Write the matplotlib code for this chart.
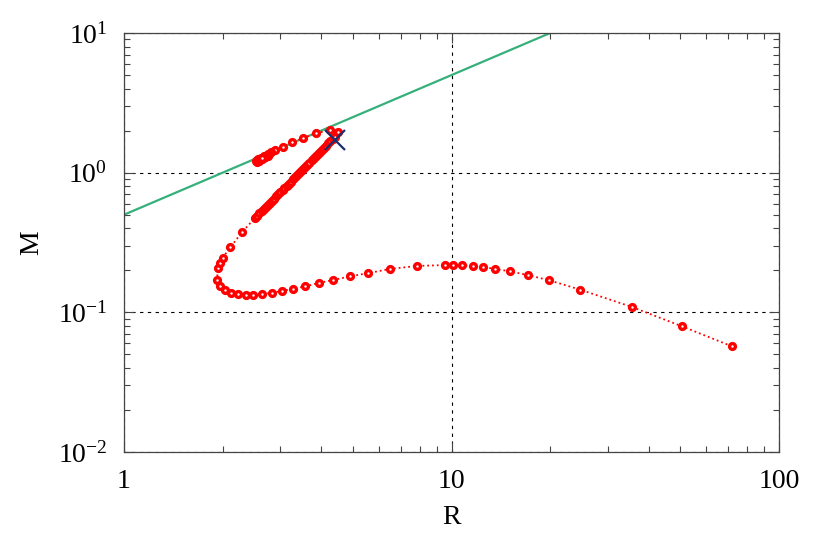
import numpy as np
import matplotlib.pyplot as plt
from matplotlib.ticker import LogLocator, FixedLocator, NullFormatter

plt.rcParams['font.family'] = ['Liberation Serif', 'DejaVu Serif']
plt.rcParams['mathtext.fontset'] = 'custom'
plt.rcParams['mathtext.rm'] = 'Liberation Serif'
plt.rcParams['mathtext.it'] = 'Liberation Serif:italic'

# -----------------------------------------------------------------------------
# Data
# -----------------------------------------------------------------------------

# tail at large R (outer part)
r_tail = [71.7, 50.5, 35.5, 24.7, 19.9, 17.1, 15.1, 13.6, 12.5, 11.6,
          10.8, 10.1, 9.55, 7.86, 6.49, 5.57, 4.90]
m_tail = [0.0572, 0.0795, 0.1094, 0.1454, 0.1695, 0.185, 0.1965, 0.2046,
          0.2114, 0.216, 0.217, 0.218, 0.218, 0.215, 0.2046, 0.191, 0.181]

# the turn at small R
r_loop = [4.36, 3.93, 3.58, 3.29, 3.04, 2.83, 2.64, 2.48, 2.35, 2.23,
          2.12, 2.03, 1.96, 1.92, 1.94, 1.96, 2.00, 2.11, 2.30]
m_loop = [0.1706, 0.1623, 0.1535, 0.1479, 0.1422, 0.1384, 0.1345, 0.1331,
          0.1331, 0.1345, 0.1384, 0.1437, 0.1535, 0.1714, 0.2065, 0.224,
          0.246, 0.292, 0.378]

# dense rising band
r_band = [2.51, 2.55, 2.59, 2.63, 2.67, 2.71, 2.75, 2.79, 2.83, 2.87,
          2.92, 2.96, 3.00, 3.05, 3.09, 3.14, 3.18, 3.23, 3.28, 3.33,
          3.38, 3.43, 3.48, 3.53, 3.58, 3.63, 3.68, 3.74, 3.79, 3.85,
          3.91, 3.96, 4.02, 4.08, 4.14, 4.21, 4.27, 4.34, 4.40]
m_band = [0.474, 0.492, 0.511, 0.530, 0.549, 0.569, 0.589, 0.610, 0.631, 0.652,
          0.680, 0.702, 0.725, 0.754, 0.778, 0.808, 0.833, 0.864, 0.897, 0.929,
          0.963, 0.997, 1.032, 1.068, 1.104, 1.141, 1.178, 1.225, 1.264, 1.313,
          1.362, 1.404, 1.455, 1.507, 1.561, 1.624, 1.680, 1.746, 1.804]

# back down along the green line, ending in a tight knot
r_top = [4.50, 4.26, 3.86, 3.53, 3.26, 3.05, 2.89,
         2.82, 2.75, 2.68, 2.62, 2.57, 2.54, 2.53, 2.55, 2.59, 2.64,
         2.70, 2.75, 2.78, 2.76, 2.71, 2.65, 2.60, 2.57, 2.56, 2.58,
         2.62, 2.66, 2.69, 2.68, 2.65, 2.62, 2.61, 2.62, 2.64]
m_top = [1.943, 2.01, 1.92, 1.77, 1.65, 1.54, 1.45,
         1.40, 1.36, 1.32, 1.28, 1.25, 1.23, 1.21, 1.20, 1.22, 1.25,
         1.29, 1.32, 1.35, 1.34, 1.31, 1.28, 1.25, 1.23, 1.22, 1.23,
         1.25, 1.28, 1.30, 1.30, 1.28, 1.26, 1.25, 1.26, 1.27]

r_curve = r_tail + r_loop + r_band + r_top
m_curve = m_tail + m_loop + m_band + m_top

# straight line M = R/2
r_line = [1.0, 20.0]
m_line = [0.5, 10.0]

# cross marker
r_cross = [4.41]
m_cross = [1.72]

# -----------------------------------------------------------------------------
# Plot
# -----------------------------------------------------------------------------

fig = plt.figure(figsize=(8.3, 5.45), dpi=100)
ax = fig.add_axes([0.1494, 0.1706, 0.7892, 0.7688])

ax.plot(r_line, m_line, color='#35b07a', lw=1.6, zorder=2)
ax.plot(r_curve, m_curve, color='red', ls=':', lw=1.3,
        marker='o', markersize=4.2, markerfacecolor='white',
        markeredgecolor='red', markeredgewidth=2.4, zorder=3)
ax.plot(r_cross, m_cross, ls='none', marker='x', markersize=14,
        markeredgewidth=1.6, color='#1b2f6e', zorder=4)

ax.set_xscale('log')
ax.set_yscale('log')
ax.set_xlim(1, 100)
ax.set_ylim(0.01, 10)

ax.xaxis.set_major_locator(FixedLocator([1, 10, 100]))
ax.set_xticklabels(['1', '10', '100'])
ax.yaxis.set_major_locator(FixedLocator([0.01, 0.1, 1, 10]))
ax.set_yticklabels([r'$10^{-2}$', r'$10^{-1}$', r'$10^{0}$', r'$10^{1}$'])
ax.xaxis.set_minor_locator(LogLocator(base=10, subs=np.arange(2, 10)))
ax.yaxis.set_minor_locator(LogLocator(base=10, subs=np.arange(2, 10)))
ax.xaxis.set_minor_formatter(NullFormatter())
ax.yaxis.set_minor_formatter(NullFormatter())

ax.tick_params(which='both', direction='in', top=True, right=True,
               labelsize=20, color='#444444')
ax.tick_params(which='major', length=7, width=0.8)
ax.tick_params(axis='x', which='major', pad=12)
ax.tick_params(axis='y', which='major', pad=12)
ax.tick_params(which='minor', length=4, width=0.8)

ax.grid(True, which='major', ls=(0, (3, 4)), color='black', lw=0.8)
for s in ax.spines.values():
    s.set_color('#444444')
    s.set_linewidth(0.9)

ax.set_xlabel('R', fontsize=20, labelpad=8)
ax.set_ylabel('M', fontsize=20, labelpad=10)

fig.savefig('out.png', dpi=100)
